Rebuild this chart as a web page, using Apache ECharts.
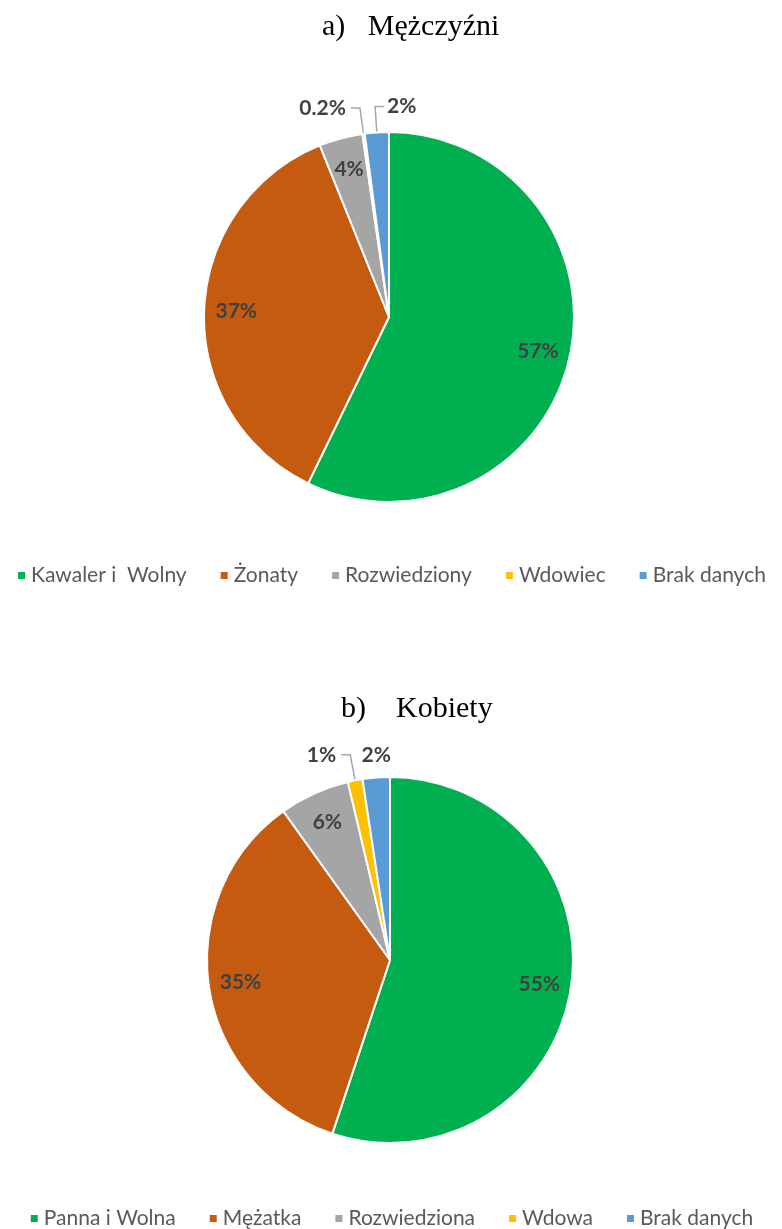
<!DOCTYPE html>
<html>
<head>
<meta charset="utf-8">
<script src="https://cdn.jsdelivr.net/npm/echarts@6/dist/echarts.min.js"></script>
<style>
    html, body { margin: 0; padding: 0; background: #fff; }
    #chart { width: 782px; height: 1229px; }
</style>
</head>
<body>
<div id="chart"></div>
<script>
    // dane (udział w %)
    const menNames = ['Kawaler i  Wolny', 'Żonaty', 'Rozwiedziony', 'Wdowiec', 'Brak danych'];
    const menValues = [57.2, 36.7, 3.8, 0.2, 2.1];
    const womenNames = ['Panna i Wolna', 'Mężatka', 'Rozwiedziona', 'Wdowa', 'Brak danych'];
    const womenValues = [55.1, 35.0, 6.2, 1.3, 2.4];
    const colors = ['#00B050', '#C55A11', '#A5A5A5', '#FFC000', '#5B9BD5'];
    const titles = ['a)\u00a0\u00a0\u00a0Mężczyźni', 'b)\u00a0\u00a0\u00a0\u00a0Kobiety'];

    const fmt = p => (p.value < 1 ? p.value.toFixed(1) : Math.round(p.value)) + '%';
    const labelStyle = { color: '#404040', fontFamily: 'Lato', fontWeight: 'bold', fontSize: 21, formatter: fmt };

    // lastMode: gdzie postawić etykietę ostatniego wycinka ('right' - z linią w prawo, 'above' - nad wycinkiem)
    function pieSeries(names, values, center, r, lastMode) {
        const last = names.length - 1;
        const len2 = 9;
        const main = {
            type: 'pie',
            center: center,
            radius: r,
            startAngle: 90,
            clockwise: true,
            avoidLabelOverlap: false,
            itemStyle: { borderColor: '#fff', borderWidth: 2 },
            emphasis: { disabled: true },
            label: Object.assign({ position: 'outside' }, labelStyle),
            labelLine: { length: 26, length2: len2, lineStyle: { color: '#A6A6A6', width: 1.5 } },
            labelLayout: function (p) {
                if (p.dataIndex !== last || !p.labelLinePoints) return {};
                const pts = p.labelLinePoints;
                if (lastMode === 'above') {
                    return { x: pts[0][0], y: pts[0][1] - 22, align: 'center', verticalAlign: 'middle' };
                }
                const p1 = pts[1];
                return {
                    x: p1[0] + len2 + 3, y: p1[1], align: 'left', verticalAlign: 'middle',
                    labelLinePoints: [pts[0], p1, [p1[0] + len2, p1[1]]]
                };
            },
            data: names.map((n, i) => ({
                name: n, value: values[i],
                label: { show: values[i] < 3 },
                labelLine: { show: values[i] < 3 && !(i === last && lastMode === 'above') }
            }))
        };
        // przezroczysta warstwa z etykietami wewnątrz dużych wycinków
        const inner = {
            type: 'pie',
            center: center,
            radius: [r * 0.62, r],
            startAngle: 90,
            silent: true,
            itemStyle: { color: 'rgba(0,0,0,0)', borderWidth: 0 },
            label: Object.assign({ position: 'inside' }, labelStyle),
            labelLine: { show: false },
            data: names.map((n, i) => ({
                name: n, value: values[i],
                label: { show: values[i] >= 3 }
            }))
        };
        return [main, inner];
    }

    const legendText = { color: '#595959', fontFamily: 'Lato', fontSize: 21 };
    const titleText = { fontFamily: 'Liberation Serif', fontWeight: 'normal', fontSize: 30, color: '#000' };

    const option = {
        color: colors,
        animation: false,
        title: [
            { text: titles[0], left: 317, top: 7, textStyle: titleText },
            { text: titles[1], left: 336, top: 689, textStyle: titleText }
        ],
        legend: [
            { data: menNames, left: 'center', top: 560, itemWidth: 9, itemHeight: 9, itemGap: 32, icon: 'rect', textStyle: legendText },
            { data: womenNames, left: 'center', top: 1203, itemWidth: 9, itemHeight: 9, itemGap: 32, icon: 'rect', textStyle: legendText }
        ],
        series: [].concat(
            pieSeries(menNames, menValues, [389, 317], 185, 'right'),
            pieSeries(womenNames, womenValues, [390, 960], 183, 'above')
        )
    };

    const myChart = echarts.init(document.getElementById('chart'));
    myChart.setOption(option);
</script>
</body>
</html>
